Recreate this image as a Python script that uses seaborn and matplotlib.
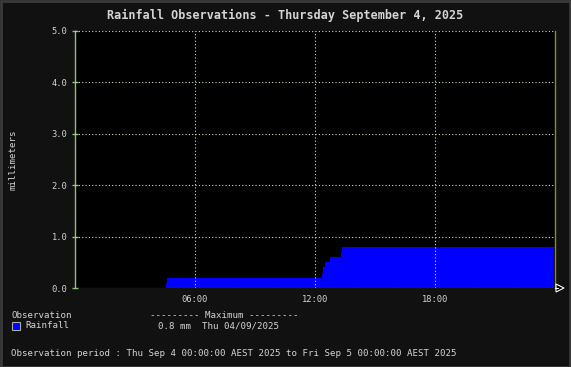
import matplotlib
matplotlib.use("Agg")
import matplotlib.pyplot as plt
import seaborn as sns
import pandas as pd
from matplotlib.patches import Rectangle

# Data (hours since midnight, cumulative rainfall mm)
hours = [0.0, 4.55, 4.62, 12.37, 12.41, 12.5, 12.75, 13.3, 13.35, 23.95]
rain_mm = [0.0, 0.1, 0.2, 0.3, 0.4, 0.5, 0.6, 0.7, 0.8, 0.8]
xticks = [6, 12, 18]
xtick_labels = ["06:00", "12:00", "18:00"]
yticks = [0.0, 1.0, 2.0, 3.0, 4.0, 5.0]
ytick_labels = ["0.0", "1.0", "2.0", "3.0", "4.0", "5.0"]

df = pd.DataFrame({"hour": hours, "rain": rain_mm})

sns.set_style("dark")
plt.rcParams["font.family"] = ["DejaVu Sans Mono"]

W, H = 571, 367
fig = plt.figure(figsize=(W / 100, H / 100), dpi=100, facecolor="#111111")
ax = fig.add_axes([75 / W, 1 - 288 / H, (555 - 75) / W, (288 - 31) / H])
ax.set_facecolor("black")

txtc = "#d4d4d4"
gridc = "#c8e0c0"

# filled step area
ax.fill_between(df["hour"], df["rain"], step="post", color="#0000ff", linewidth=0, zorder=2)
sns.lineplot(data=df, x="hour", y="rain", drawstyle="steps-post", color="#0000ff",
             linewidth=0.8, ax=ax, zorder=2)

ax.set_xlim(0, 24)
ax.set_ylim(0, 5.0)

# grid
for x in xticks:
    ax.axvline(x, color=gridc, linestyle=(0, (1, 2)), linewidth=0.8, zorder=3)
for y in yticks[1:]:
    ax.axhline(y, color=gridc, linestyle=(0, (1, 2)), linewidth=0.8, zorder=3)
ax.axhline(0, color="#c8d8ff", linestyle=(0, (1, 2)), linewidth=0.8, zorder=3)

for s in ["top", "bottom"]:
    ax.spines[s].set_visible(False)
ax.spines["left"].set_color("#90c070")
ax.spines["left"].set_linewidth(1.0)
ax.spines["right"].set_color("#8a8a30")
ax.spines["right"].set_linewidth(1.0)

ax.set_xticks(xticks)
ax.set_xticklabels(xtick_labels)
ax.set_yticks(yticks)
ax.set_yticklabels(ytick_labels)
ax.tick_params(axis="x", colors=txtc, labelsize=6.3, length=0, pad=5)
ax.tick_params(axis="y", which="major", left=True, colors="#90c070", labelcolor=txtc,
               labelsize=6.3, length=5, direction="inout", width=1.0, pad=3)
ax.set_xlabel("")
ax.set_ylabel("")

fig.text(13 / W, 1 - 160 / H, "millimeters", rotation=90, ha="center", va="center",
         color=txtc, fontsize=6.6)

# arrow at end of x axis
fig.add_artist(plt.Polygon([[556 / W, 1 - 284 / H], [556 / W, 1 - 292 / H], [564 / W, 1 - 288 / H]],
                           closed=True, facecolor="black", edgecolor="white", linewidth=0.8,
                           transform=fig.transFigure))
fig.add_artist(plt.Line2D([555 / W, 558 / W], [1 - 288 / H, 1 - 288 / H], color="white",
                          linewidth=0.8, transform=fig.transFigure))

# title
fig.text(285 / W, 1 - 15 / H, "Rainfall Observations - Thursday September 4, 2025",
         ha="center", va="center", color=txtc, fontsize=8.5, fontweight="bold")

# legend texts
fs = 6.6
fig.text(11 / W, 1 - 315 / H, "Observation", color=txtc, fontsize=fs, va="center")
fig.text(150 / W, 1 - 315 / H, "--------- Maximum ---------", color=txtc, fontsize=fs, va="center")
fig.add_artist(Rectangle((12 / W, 1 - 330 / H), 8 / W, 8 / H, facecolor="#0000ff",
                         edgecolor="#aaaaaa", linewidth=0.8, transform=fig.transFigure))
fig.text(25 / W, 1 - 326 / H, "Rainfall", color=txtc, fontsize=fs, va="center")
fig.text(158 / W, 1 - 326 / H, "0.8 mm  Thu 04/09/2025", color=txtc, fontsize=fs, va="center")
fig.text(11 / W, 1 - 353 / H,
         "Observation period : Thu Sep 4 00:00:00 AEST 2025 to Fri Sep 5 00:00:00 AEST 2025",
         color=txtc, fontsize=fs, va="center")

# outer border
fig.add_artist(Rectangle((0.5 / W, 0.5 / H), 1 - 1.5 / W, 1 - 1.5 / H, fill=False,
                         edgecolor="#3a3a3a", linewidth=2.0, transform=fig.transFigure))

fig.savefig("out.png", dpi=100, facecolor=fig.get_facecolor())
